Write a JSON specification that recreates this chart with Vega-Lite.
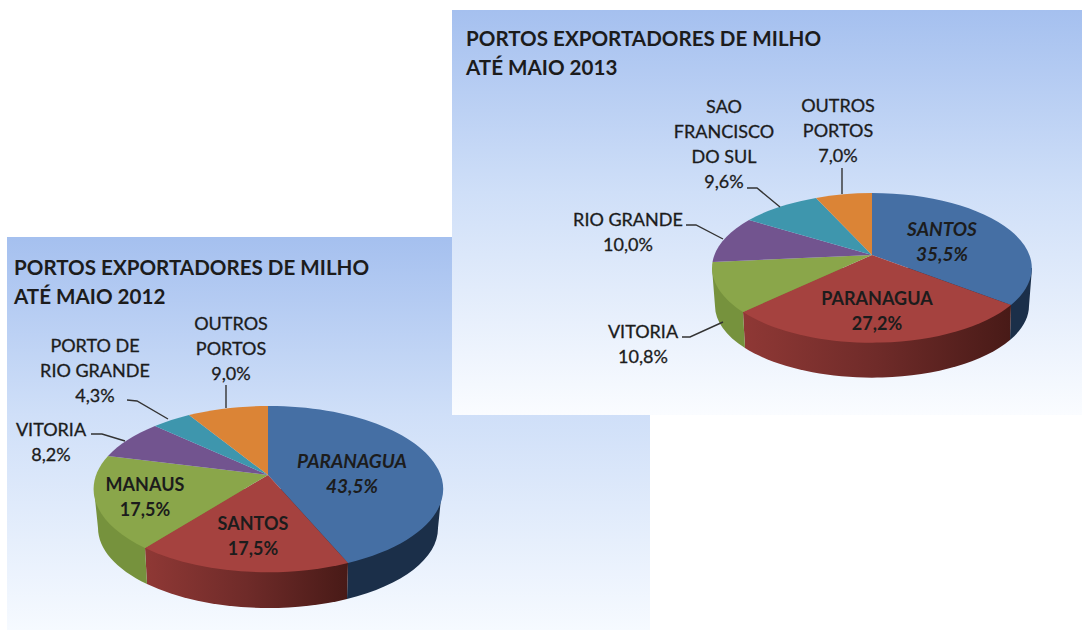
{
"$schema":"https://vega.github.io/schema/vega-lite/v6.json",
"width":1082,"height":630,"padding":0,"autosize":{"type":"fit","contains":"padding"},
"background":"white",
"config":{"view":{"stroke":null},"text":{"font":"Lato","lineBreak":"\n","lineHeight":25.3,"baseline":"middle","color":"#1c1c1c"}},
"datasets":{
"paineis":[
{"ano":2012,"esq":7,"dir":650,"topo":237,"base":630},
{"ano":2013,"esq":452,"dir":1082,"topo":10,"base":415}],
"fatias":[
{"ano":2012,"ordem":1,"fatia":"2012-1","porto":"PARANAGUA","pct":43.5},
{"ano":2012,"ordem":2,"fatia":"2012-2","porto":"SANTOS","pct":17.5},
{"ano":2012,"ordem":3,"fatia":"2012-3","porto":"MANAUS","pct":17.5},
{"ano":2012,"ordem":4,"fatia":"2012-4","porto":"VITORIA","pct":8.2},
{"ano":2012,"ordem":5,"fatia":"2012-5","porto":"PORTO DE RIO GRANDE","pct":4.3},
{"ano":2012,"ordem":6,"fatia":"2012-6","porto":"OUTROS PORTOS","pct":9.0},
{"ano":2013,"ordem":1,"fatia":"2013-1","porto":"SANTOS","pct":35.5},
{"ano":2013,"ordem":2,"fatia":"2013-2","porto":"PARANAGUA","pct":27.2},
{"ano":2013,"ordem":3,"fatia":"2013-3","porto":"VITORIA","pct":10.8},
{"ano":2013,"ordem":4,"fatia":"2013-4","porto":"RIO GRANDE","pct":10.0},
{"ano":2013,"ordem":5,"fatia":"2013-5","porto":"SAO FRANCISCO DO SUL","pct":9.6},
{"ano":2013,"ordem":6,"fatia":"2013-6","porto":"OUTROS PORTOS","pct":7.0}],
"titulos":[
{"t":"PORTOS EXPORTADORES DE MILHO\nATÉ MAIO 2012","px":14,"py":268.5},
{"t":"PORTOS EXPORTADORES DE MILHO\nATÉ MAIO 2013","px":466,"py":39.5}],
"rotulos":[
{"t":"OUTROS\nPORTOS\n9,0%","px":231,"py":324.5,"e":"n"},
{"t":"PORTO DE\nRIO GRANDE\n4,3%","px":95,"py":346.5,"e":"n"},
{"t":"VITORIA\n8,2%","px":51,"py":430.5,"e":"n"},
{"t":"MANAUS\n17,5%","px":145,"py":485.5,"e":"b"},
{"t":"SANTOS\n17,5%","px":253,"py":524.5,"e":"b"},
{"t":"PARANAGUA\n43,5%","px":352,"py":461.5,"e":"i"},
{"t":"SAO\nFRANCISCO\nDO SUL\n9,6%","px":724,"py":107.5,"e":"n"},
{"t":"OUTROS\nPORTOS\n7,0%","px":838,"py":106.5,"e":"n"},
{"t":"RIO GRANDE\n10,0%","px":628,"py":220.5,"e":"n"},
{"t":"VITORIA\n10,8%","px":643,"py":332.5,"e":"n"},
{"t":"SANTOS\n35,5%","px":942,"py":229.5,"e":"i"},
{"t":"PARANAGUA\n27,2%","px":877,"py":299.5,"e":"b"}],
"guias":[
{"g":"a","o":1,"px":226,"py":385},{"g":"a","o":2,"px":226,"py":408},
{"g":"b","o":1,"px":127,"py":400},{"g":"b","o":2,"px":137,"py":401},{"g":"b","o":3,"px":168,"py":419},
{"g":"c","o":1,"px":91,"py":434},{"g":"c","o":2,"px":102,"py":434},{"g":"c","o":3,"px":125,"py":441},
{"g":"d","o":1,"px":842,"py":168},{"g":"d","o":2,"px":842,"py":194},
{"g":"e","o":1,"px":747,"py":188},{"g":"e","o":2,"px":757,"py":188},{"g":"e","o":3,"px":780,"py":207},
{"g":"f","o":1,"px":686,"py":225},{"g":"f","o":2,"px":696,"py":225},{"g":"f","o":3,"px":723,"py":239},
{"g":"h","o":1,"px":682,"py":337},{"g":"h","o":2,"px":690,"py":337},{"g":"h","o":3,"px":723,"py":322}]
},
"data":{"name":"fatias"},
"resolve":{"scale":{"x":"independent","y":"independent","shape":"independent","color":"independent"}},
"layer":[
{"data":{"name":"paineis"},"transform":[{"filter":"datum.ano==2012"}],
 "mark":{"type":"rect","fill":{"gradient":"linear","x1":0,"y1":0,"x2":0,"y2":1,"stops":[{"offset":0,"color":"#a5c0ef"},{"offset":0.45,"color":"#cfdff8"},{"offset":1,"color":"#f6faff"}]}},
 "encoding":{"x":{"field":"esq","type":"quantitative","axis":null,"scale":{"domain":[0,1082]}},"x2":{"field":"dir"},"y":{"field":"topo","type":"quantitative","axis":null,"scale":{"domain":[630,0]}},"y2":{"field":"base"}}},
{"data":{"name":"paineis"},"transform":[{"filter":"datum.ano==2013"}],
 "mark":{"type":"rect","fill":{"gradient":"linear","x1":0,"y1":0,"x2":0,"y2":1,"stops":[{"offset":0,"color":"#a5c0ef"},{"offset":0.45,"color":"#cfdff8"},{"offset":1,"color":"#fafcff"}]}},
 "encoding":{"x":{"field":"esq","type":"quantitative","axis":null,"scale":{"domain":[0,1082]}},"x2":{"field":"dir"},"y":{"field":"topo","type":"quantitative","axis":null,"scale":{"domain":[630,0]}},"y2":{"field":"base"}}},
{"transform":[{"filter":"datum.ordem==1"}],
 "mark":{"type":"point","filled":true,"size":4,"opacity":1,"fill":"#1b2f49"},
 "encoding":{"x":{"field":"ano","type":"quantitative","axis":null,"scale":{"domain":[2012,2013],"range":[268,872]}},"y":{"field":"ano","type":"quantitative","axis":null,"scale":{"domain":[2012,2013],"range":[489,268]}},
 "shape":{"field":"fatia","type":"nominal","legend":null,"scale":{"domain":["2012-1","2013-1"],"range":["M174 0L170 39A170 80 0 0 1 79 110L80 74L0 0Z","M160 0L157 38A157 72 0 0 1 138 72L139 37L0 0Z"]}}}},
{"transform":[{"filter":"datum.ordem==2"}],
 "mark":{"type":"point","filled":true,"size":4,"opacity":1,"fill":{"gradient":"linear","x1":0,"y1":0,"x2":1,"y2":0,"stops":[{"offset":0,"color":"#8f3835"},{"offset":0.5,"color":"#6f2b29"},{"offset":1,"color":"#481a17"}]}},
 "encoding":{"x":{"field":"ano","type":"quantitative","axis":null,"scale":{"domain":[2012,2013],"range":[268,872]}},"y":{"field":"ano","type":"quantitative","axis":null,"scale":{"domain":[2012,2013],"range":[489,268]}},
 "shape":{"field":"fatia","type":"nominal","legend":null,"scale":{"domain":["2012-2","2013-2"],"range":["M80 74L79 110A170 80 0 0 1 -121 95L-123 59L0 0Z","M139 37L138 72A157 72 0 0 1 -127 80L-129 44L0 0Z"]}}}},
{"transform":[{"filter":"datum.ordem==3"}],
 "mark":{"type":"point","filled":true,"size":4,"opacity":1,"fill":"#76923d"},
 "encoding":{"x":{"field":"ano","type":"quantitative","axis":null,"scale":{"domain":[2012,2013],"range":[268,872]}},"y":{"field":"ano","type":"quantitative","axis":null,"scale":{"domain":[2012,2013],"range":[489,268]}},
 "shape":{"field":"fatia","type":"nominal","legend":null,"scale":{"domain":["2012-3","2013-3"],"range":["M-123 59L-121 95A170 80 0 0 1 -170 39L-174 0L0 0Z","M-129 44L-127 80A157 72 0 0 1 -157 38L-160 0L0 0Z"]}}}},
{"mark":{"type":"point","filled":true,"size":4,"opacity":1,"strokeWidth":0.5},
 "encoding":{"x":{"field":"ano","type":"quantitative","axis":null,"scale":{"domain":[2012,2013],"range":[268,872]}},"y":{"field":"ano","type":"quantitative","axis":null,"scale":{"domain":[2012,2013],"range":[489,268]}},
 "color":{"field":"ordem","type":"nominal","legend":null,"scale":{"domain":[1,2,3,4,5,6],"range":["#456fa4","#a5423f","#8aa64a","#72548f","#3e96ad","#db8436"]}},
 "shape":{"field":"fatia","type":"nominal","legend":null,"scale":{"domain":["2012-1","2012-2","2012-3","2012-4","2012-5","2012-6","2013-1","2013-2","2013-3","2013-4","2013-5","2013-6"],
 "range":["M0 -14L0 -83A174 83 0 0 1 80 74Z","M0 -14L80 74A174 83 0 0 1 -123 59Z","M0 -14L-123 59A174 83 0 0 1 -160 -33Z","M0 -14L-160 -33A174 83 0 0 1 -113 -63Z","M0 -14L-113 -63A174 83 0 0 1 -79 -74Z","M0 -14L-79 -74A174 83 0 0 1 0 -83Z",
 "M0 -13L0 -75A160 75 0 0 1 139 37Z","M0 -13L139 37A160 75 0 0 1 -129 44Z","M0 -13L-129 44A160 75 0 0 1 -159.5 -6Z","M0 -13L-159.5 -6A160 75 0 0 1 -123 -48Z","M0 -13L-123 -48A160 75 0 0 1 -56 -70Z","M0 -13L-56 -70A160 75 0 0 1 0 -75Z"]}}}},
{"data":{"name":"guias"},
 "mark":{"type":"line","color":"#333333","strokeWidth":1.4},
 "encoding":{"x":{"field":"px","type":"quantitative","axis":null,"scale":{"domain":[0,1082]}},"y":{"field":"py","type":"quantitative","axis":null,"scale":{"domain":[630,0]}},"detail":{"field":"g"},"order":{"field":"o"}}},
{"data":{"name":"titulos"},
 "mark":{"type":"text","align":"left","fontWeight":"bold","fontSize":20.6,"lineHeight":29.5},
 "encoding":{"x":{"field":"px","type":"quantitative","axis":null,"scale":{"domain":[0,1082]}},"y":{"field":"py","type":"quantitative","axis":null,"scale":{"domain":[630,0]}},"text":{"field":"t"}}},
{"data":{"name":"rotulos"},"transform":[{"filter":"datum.e=='n'"}],
 "mark":{"type":"text","align":"center","fontSize":18,"stroke":"#1c1c1c","strokeWidth":0.3},
 "encoding":{"x":{"field":"px","type":"quantitative","axis":null,"scale":{"domain":[0,1082]}},"y":{"field":"py","type":"quantitative","axis":null,"scale":{"domain":[630,0]}},"text":{"field":"t"}}},
{"data":{"name":"rotulos"},"transform":[{"filter":"datum.e=='b'"}],
 "mark":{"type":"text","align":"center","fontSize":18,"fontWeight":"bold"},
 "encoding":{"x":{"field":"px","type":"quantitative","axis":null,"scale":{"domain":[0,1082]}},"y":{"field":"py","type":"quantitative","axis":null,"scale":{"domain":[630,0]}},"text":{"field":"t"}}},
{"data":{"name":"rotulos"},"transform":[{"filter":"datum.e=='i'"}],
 "mark":{"type":"text","align":"center","fontSize":19,"fontWeight":"bold","fontStyle":"italic"},
 "encoding":{"x":{"field":"px","type":"quantitative","axis":null,"scale":{"domain":[0,1082]}},"y":{"field":"py","type":"quantitative","axis":null,"scale":{"domain":[630,0]}},"text":{"field":"t"}}}
]
}
